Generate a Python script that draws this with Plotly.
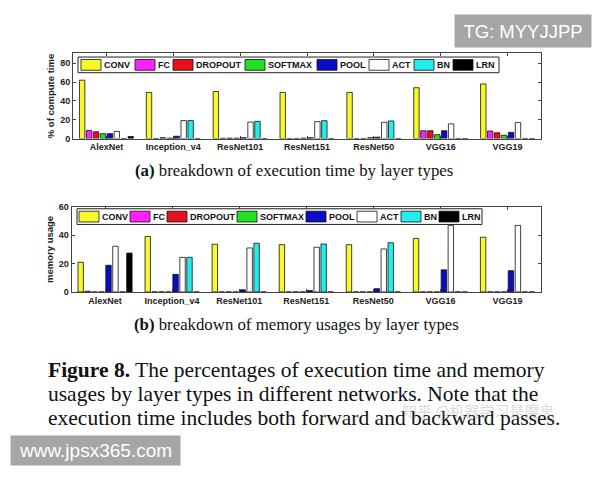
import plotly.graph_objects as go

networks = ["AlexNet", "Inception_v4", "ResNet101", "ResNet151", "ResNet50", "VGG16", "VGG19"]
layers = ["CONV", "FC", "DROPOUT", "SOFTMAX", "POOL", "ACT", "BN", "LRN"]
colors = ["#f8f82a", "#ff22ff", "#e8101a", "#22e022", "#0c0cc4", "#ffffff", "#22eeee", "#000000"]

# % of compute time per layer type
time_conv    = [62, 49, 50, 49, 49, 54, 58]
time_fc      = [8.7, 0, 0.3, 0, 0, 8.3, 8]
time_dropout = [7.2, 1, 0.5, 0, 0, 8.3, 6.2]
time_softmax = [5.2, 0.5, 0.5, 0.5, 1, 4.2, 3.5]
time_pool    = [5.2, 2.5, 1, 1, 1.5, 8.3, 6.6]
time_act     = [7.6, 19.1, 17.5, 18, 17.3, 15.6, 17]
time_bn      = [0, 19.1, 18.3, 19, 18.7, 0, 0]
time_lrn     = [2.1, 0, 0, 0, 0, 0, 0]

# memory usage per layer type
mem_conv    = [20.9, 39.1, 33.6, 33.3, 33.3, 37.7, 38.6]
mem_fc      = [0.5, 0, 0, 0, 0, 0, 0]
mem_dropout = [0, 0, 0, 0, 0, 0, 0]
mem_softmax = [0, 0, 0, 0, 0, 0, 0]
mem_pool    = [18.8, 12.4, 1.5, 1, 2.3, 15.6, 15]
mem_act     = [32.2, 24.4, 31, 31.5, 30.3, 46.9, 46.9]
mem_bn      = [0, 24.4, 34.3, 33.8, 34.7, 0, 0]
mem_lrn     = [27.4, 0, 0, 0, 0, 0, 0]

time_vals = [time_conv, time_fc, time_dropout, time_softmax, time_pool, time_act, time_bn, time_lrn]
mem_vals = [mem_conv, mem_fc, mem_dropout, mem_softmax, mem_pool, mem_act, mem_bn, mem_lrn]

time_ticks = [0, 20, 40, 60, 80]
mem_ticks = [0, 20, 40, 60]

# the page body has an 8px margin; the figure is sized to fit the 600x480 window
OFF = 8
W, H = 600 - OFF, 480 - OFF


def px(x):
    return (x - OFF) / W


def py(y):
    return 1 - (y - OFF) / H


fig = go.Figure()
for name, col, tv, mv in zip(layers, colors, time_vals, mem_vals):
    fig.add_trace(go.Bar(x=networks, y=tv, name=name, marker=dict(color=col, line=dict(color="#111", width=0.8)),
                         xaxis="x", yaxis="y", showlegend=False))
    fig.add_trace(go.Bar(x=networks, y=mv, name=name, marker=dict(color=col, line=dict(color="#111", width=0.8)),
                         xaxis="x2", yaxis="y2", showlegend=False))

axfont = dict(family="Arial", size=9, color="#222", weight="bold")
common_x = dict(showline=True, linecolor="#444", linewidth=1, mirror="ticks", ticks="inside", ticklen=3,
                tickcolor="#444", tickfont=axfont, range=[-0.5, 6.5], showgrid=False)
common_y = dict(showline=True, linecolor="#444", linewidth=1, mirror="ticks", ticks="inside", ticklen=3,
                tickcolor="#444", tickfont=axfont, showgrid=False, zeroline=False)

fig.update_layout(
    width=W, height=H, margin=dict(l=0, r=0, t=0, b=0),
    paper_bgcolor="white", plot_bgcolor="white",
    barmode="group", bargap=0.17, bargroupgap=0.22,
    xaxis=dict(domain=[px(73), px(541)], anchor="y", **common_x),
    yaxis=dict(domain=[py(136.3), py(49.3)], anchor="x", range=[0, 90.4], tickvals=time_ticks,
               title=dict(text="% of compute time", font=dict(family="Arial", size=9.5, color="#222", weight="bold"), standoff=3),
               **common_y),
    xaxis2=dict(domain=[px(71.5), px(541)], anchor="y2", **common_x),
    yaxis2=dict(domain=[py(293), py(206)], anchor="x2", range=[0, 60], tickvals=mem_ticks,
                title=dict(text="memory usage", font=dict(family="Arial", size=9.5, color="#222", weight="bold"), standoff=3),
                **common_y),
)

# hand-drawn legends (box + swatches + labels), positions in page pixels
legend_layouts = [
    (78, 499, 53, 69, [81, 135, 173, 245, 317, 369, 414, 453], 20),
    (77, 482, 208, 224, [79, 130, 167, 237, 306, 357, 401, 439], 20),
]
shapes = []
annos = []
for bx0, bx1, by0, by1, sx_list, sw in legend_layouts:
    shapes.append(dict(type="rect", xref="paper", yref="paper", x0=px(bx0), x1=px(bx1),
                       y0=py(by1), y1=py(by0), fillcolor="white",
                       line=dict(color="#222", width=1), layer="above"))
    for name, col, sx in zip(layers, colors, sx_list):
        shapes.append(dict(type="rect", xref="paper", yref="paper", x0=px(sx), x1=px(sx + sw),
                           y0=py(by1 - 2.5), y1=py(by0 + 2.5), fillcolor=col,
                           line=dict(color="#111", width=0.8), layer="above"))
        annos.append(dict(text=name, xref="paper", yref="paper", x=px(sx + sw + 1), y=py((by0 + by1) / 2),
                          xanchor="left", yanchor="middle", showarrow=False,
                          font=dict(family="Arial", size=9, color="#111", weight="bold")))
fig.update_layout(shapes=shapes)
for a in annos:
    fig.add_annotation(**a)

serif = "Liberation Serif"
fig.add_annotation(text="<b>(a)</b> breakdown of execution time by layer types", xref="paper", yref="paper",
                   x=px(294), y=py(169), xanchor="center", yanchor="middle", showarrow=False,
                   font=dict(family=serif, size=16.8, color="#111"))
fig.add_annotation(text="<b>(b)</b> breakdown of memory usages by layer types", xref="paper", yref="paper",
                   x=px(296), y=py(326), xanchor="center", yanchor="middle", showarrow=False,
                   font=dict(family=serif, size=16.8, color="#111"))
caption_lines = [
    ("<b>Figure 8.</b> The percentages of execution time and memory", 373),
    ("usages by layer types in different networks. Note that the", 397.5),
    ("execution time includes both forward and backward passes.", 421.5),
]
for txt, yy in caption_lines:
    fig.add_annotation(text=txt, xref="paper", yref="paper", x=px(46), y=py(yy), xanchor="left",
                       yanchor="middle", showarrow=False, font=dict(family=serif, size=21.5, color="#111"))
fig.add_annotation(text="知乎 @机器学习是魔鬼", xref="paper", yref="paper", x=px(478), y=py(414),
                   xanchor="center", yanchor="middle", showarrow=False, opacity=0.3,
                   font=dict(family="Noto Sans CJK SC", size=15, color="#888"))
fig.add_annotation(text="TG: MYYJJPP", xref="paper", yref="paper", x=px(523), y=py(26),
                   xanchor="center", yanchor="middle", showarrow=False, bgcolor="#a6a6a6",
                   width=134, height=30, font=dict(family="Arial", size=18.5, color="white"))
fig.add_annotation(text="www.jpsx365.com", xref="paper", yref="paper", x=px(95), y=py(455),
                   xanchor="center", yanchor="middle", showarrow=False, bgcolor="#a6a6a6",
                   width=167, height=27, font=dict(family="Arial", size=19, color="white"))

fig.write_html("out.html")
